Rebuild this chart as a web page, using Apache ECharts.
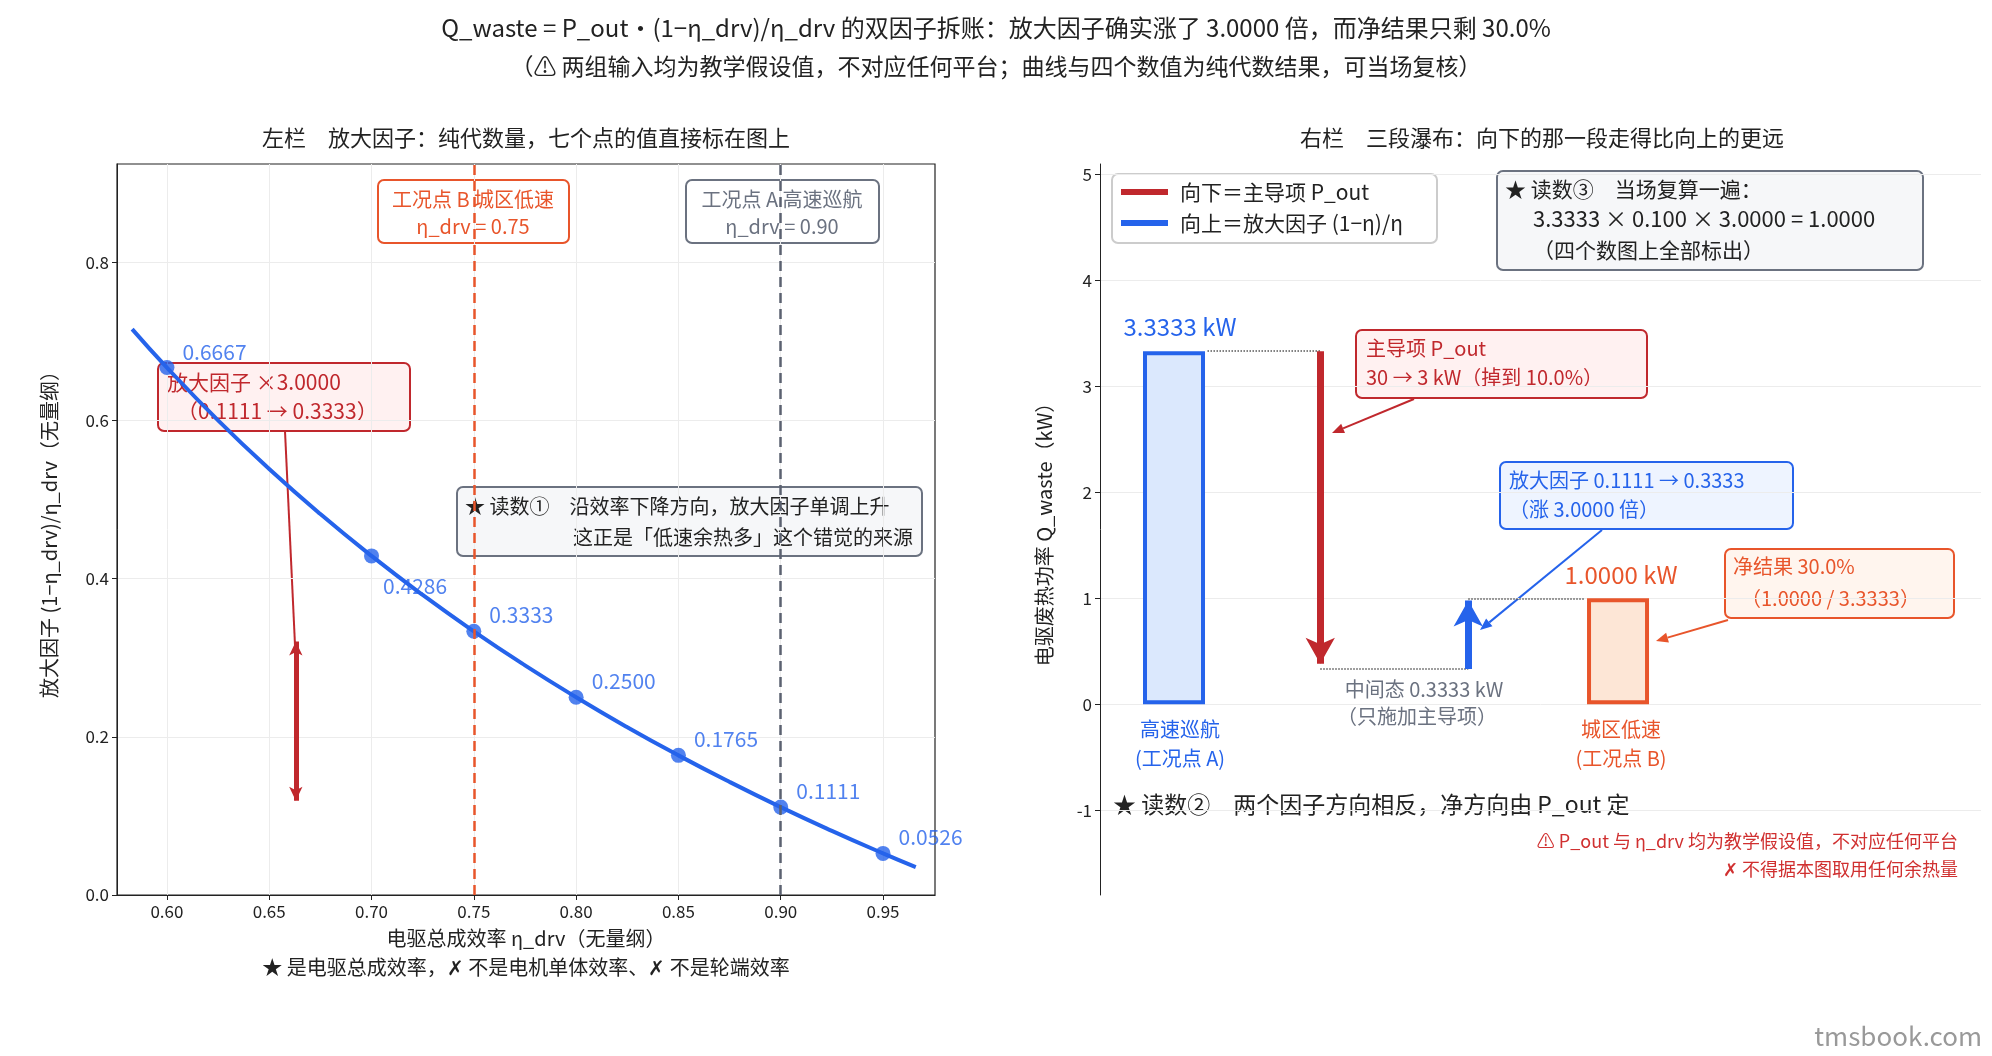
<!DOCTYPE html>
<html><head><meta charset="utf-8">
<script src="https://cdn.jsdelivr.net/npm/echarts@6/dist/echarts.min.js"></script>
<style>html,body{margin:0;padding:0;background:#fff}#c{width:1992px;height:1056px}</style>
</head><body><div id="c"></div>
<script>
// ---- data ----
const curveEta = [0.583,0.60,0.625,0.65,0.675,0.70,0.725,0.75,0.775,0.80,0.825,0.85,0.875,0.90,0.925,0.95,0.966];
const curveVal = [0.7153,0.6667,0.6000,0.5385,0.4815,0.4286,0.3793,0.3333,0.2903,0.2500,0.2121,0.1765,0.1429,0.1111,0.0811,0.0526,0.0352];
const pointEta = [0.60,0.70,0.75,0.80,0.85,0.90,0.95];
const pointVal = [0.6667,0.4286,0.3333,0.2500,0.1765,0.1111,0.0526];
const etaTicks = [0.60,0.65,0.70,0.75,0.80,0.85,0.90,0.95];
const factorTicks = [0.0,0.2,0.4,0.6,0.8];
const wasteTicks = [-1,0,1,2,3,4,5];
const qA = 3.3333, qMid = 0.3333, qB = 1.0000;
const ampArrow = [0.1111, 0.3333];
const pos = {A:0.84, down:2.50, up:4.18, B:5.88};

const FONT = '"Noto Sans CJK SC","Noto Sans",sans-serif';
const BLUE='#2563eb', RED='#c0282d', ORANGE='#e8552b', GRAY='#6b7280';
const chart = echarts.init(document.getElementById('c'));

function txt(x,y,text,o){return Object.assign({type:'text',x,y,style:Object.assign({text,font:'20px '+FONT,fill:'#222',textAlign:'center',textVerticalAlign:'middle'},o||{})});}
function box(x,y,w,h,stroke,fill){return {type:'rect',shape:{x,y,width:w,height:h,r:6},style:{fill,stroke,lineWidth:2}};}
function arrow(x1,y1,x2,y2,color,w){
  const a=Math.atan2(y2-y1,x2-x1),L=12,W=5;
  const bx=x2-L*Math.cos(a),by=y2-L*Math.sin(a);
  return [{type:'line',shape:{x1,y1,x2:bx,y2:by},style:{stroke:color,lineWidth:w}},
    {type:'polygon',shape:{points:[[x2,y2],[bx+W*Math.sin(a),by-W*Math.cos(a)],[bx-W*Math.sin(a),by+W*Math.cos(a)]]},style:{fill:color}}];
}
const dotted = {type:'dotted',color:'#555',width:1.5};

const graphics = [
  txt(996,28,'Q_waste = P_out・(1−η_drv)/η_drv 的双因子拆账：放大因子确实涨了 3.0000 倍，而净结果只剩 30.0%',{font:'24px '+FONT}),
  txt(996,66,'（⚠ 两组输入均为教学假设值，不对应任何平台；曲线与四个数值为纯代数结果，可当场复核）',{font:'23px '+FONT}),
  txt(526,138,'左栏　放大因子：纯代数量，七个点的值直接标在图上',{font:'22px '+FONT}),
  txt(1542,138,'右栏　三段瀑布：向下的那一段走得比向上的更远',{font:'22px '+FONT}),
  // left boxes
  box(378,180,191,63,ORANGE,'#fff'),
  txt(473,199,'工况点 B 城区低速',{fill:ORANGE}), txt(473,226,'η_drv = 0.75',{fill:ORANGE}),
  box(686,180,193,63,GRAY,'#fff'),
  txt(782,199,'工况点 A 高速巡航',{fill:GRAY}), txt(782,226,'η_drv = 0.90',{fill:GRAY}),
  box(158,363,252,68,RED,'#fff1f1'),
  txt(167,382,'放大因子 ×3.0000',{fill:RED,textAlign:'left',font:'21px '+FONT}),
  txt(177,411,'（0.1111 → 0.3333）',{fill:RED,textAlign:'left',font:'21px '+FONT}),
  {type:'line',shape:{x1:285,y1:431,x2:295,y2:645},style:{stroke:RED,lineWidth:2}},
  box(457,487,465,69,GRAY,'#f6f7f9'),
  txt(465,506,'★ 读数①　沿效率下降方向，放大因子单调上升',{textAlign:'left'}),
  txt(913,537,'这正是「低速余热多」这个错觉的来源',{textAlign:'right'}),
  txt(526,938,'电驱总成效率 η_drv（无量纲）',{font:'20px '+FONT}),
  txt(526,967,'★ 是电驱总成效率，✗ 不是电机单体效率、✗ 不是轮端效率',{font:'20px '+FONT}),
  // right legend
  box(1112,174,325,69,'#ccc','#fff'),
  {type:'line',shape:{x1:1121,y1:192,x2:1168,y2:192},style:{stroke:RED,lineWidth:6}},
  {type:'line',shape:{x1:1121,y1:223,x2:1168,y2:223},style:{stroke:BLUE,lineWidth:6}},
  txt(1180,192,'向下＝主导项 P_out',{textAlign:'left',font:'21px '+FONT}),
  txt(1180,223,'向上＝放大因子 (1−η)/η',{textAlign:'left',font:'21px '+FONT}),
  box(1497,171,426,99,GRAY,'#f6f7f9'),
  txt(1505,189,'★ 读数③　当场复算一遍：',{textAlign:'left',font:'21px '+FONT}),
  txt(1533,219,'3.3333 × 0.100 × 3.0000 = 1.0000',{textAlign:'left',font:'22px '+FONT}),
  txt(1533,250,'（四个数图上全部标出）',{textAlign:'left',font:'21px '+FONT}),
  txt(1180,327,'3.3333 kW',{fill:BLUE,font:'24px '+FONT}),
  txt(1621,575,'1.0000 kW',{fill:ORANGE,font:'24px '+FONT}),
  txt(1424,689,'中间态 0.3333 kW',{fill:GRAY}),
  txt(1417,716,'（只施加主导项）',{fill:GRAY}),
  txt(1180,729,'高速巡航',{fill:BLUE}), txt(1180,758,'(工况点 A)',{fill:BLUE}),
  txt(1621,729,'城区低速',{fill:ORANGE}), txt(1621,758,'(工况点 B)',{fill:ORANGE}),
  box(1356,330,291,68,RED,'#fff1f1'),
  txt(1366,348,'主导项 P_out',{fill:RED,textAlign:'left'}),
  txt(1366,377,'30 → 3 kW（掉到 10.0%）',{fill:RED,textAlign:'left'}),
  ...arrow(1414,399,1332,433,RED,2),
  box(1500,462,293,67,BLUE,'#eef4ff'),
  txt(1509,480,'放大因子 0.1111 → 0.3333',{fill:BLUE,textAlign:'left'}),
  txt(1509,509,'（涨 3.0000 倍）',{fill:BLUE,textAlign:'left'}),
  ...arrow(1602,530,1480,630,BLUE,2),
  box(1725,549,229,69,ORANGE,'#fff5ee'),
  txt(1733,566,'净结果 30.0%',{fill:ORANGE,textAlign:'left'}),
  txt(1741,598,'（1.0000 / 3.3333）',{fill:ORANGE,textAlign:'left'}),
  ...arrow(1728,620,1656,641,ORANGE,2),
  txt(1113,804,'★ 读数②　两个因子方向相反，净方向由 P_out 定',{textAlign:'left',font:'23px '+FONT}),
  txt(1958,841,'⚠ P_out 与 η_drv 均为教学假设值，不对应任何平台',{textAlign:'right',fill:'#d03030',font:'18px '+FONT}),
  txt(1958,869,'✗ 不得据本图取用任何余热量',{textAlign:'right',fill:'#d03030',font:'18px '+FONT}),
  txt(1982,1036,'tmsbook.com',{textAlign:'right',fill:'#999',font:'26px '+FONT})
];

const axLabel = {color:'#222',fontSize:17,fontFamily:FONT};
chart.setOption({
  animation:false,
  textStyle:{fontFamily:FONT},
  grid:[
    {left:117,width:818,top:164,height:731,show:true,borderColor:'#222',borderWidth:1.2,backgroundColor:'transparent'},
    {left:1100,width:881,top:164,height:731}
  ],
  xAxis:[
    {gridIndex:0,type:'value',min:0.5756,max:0.9754,
     axisLine:{lineStyle:{color:'#222'}},axisTick:{customValues:etaTicks,lineStyle:{color:'#222'}},
     axisLabel:Object.assign({customValues:etaTicks,formatter:v=>v.toFixed(2)},axLabel),
     splitLine:{show:true,lineStyle:{color:'#ececec'}}},
    {gridIndex:1,type:'value',min:0,max:10,show:false}
  ],
  yAxis:[
    {gridIndex:0,type:'value',min:0,max:0.924,interval:0.2,
     name:'放大因子 (1−η_drv)/η_drv（无量纲）',nameLocation:'middle',nameGap:58,
     nameTextStyle:{fontSize:20,color:'#222',fontFamily:FONT},
     axisLine:{show:true,lineStyle:{color:'#222'}},axisTick:{show:true,customValues:factorTicks,lineStyle:{color:'#222'}},
     axisLabel:Object.assign({customValues:factorTicks,formatter:v=>v.toFixed(1)},axLabel),
     splitLine:{lineStyle:{color:'#ececec'}}},
    {gridIndex:1,type:'value',min:-1.8,max:5.1,
     name:'电驱废热功率 Q_waste（kW）',nameLocation:'middle',nameGap:46,
     nameTextStyle:{fontSize:20,color:'#222',fontFamily:FONT},
     axisLine:{show:true,lineStyle:{color:'#222'}},
     axisTick:{show:true,customValues:wasteTicks,lineStyle:{color:'#222'}},
     axisLabel:Object.assign({customValues:wasteTicks},axLabel),
     splitLine:{show:true,lineStyle:{color:'#ececec'}}}
  ],
  series:[
    {type:'line',xAxisIndex:0,yAxisIndex:0,smooth:true,symbol:'none',
     data:curveEta.map((e,i)=>[e,curveVal[i]]),lineStyle:{color:BLUE,width:4},z:3,
     markLine:{silent:true,symbol:'none',label:{show:false},data:[
       {xAxis:0.75,lineStyle:{color:ORANGE,type:[10,6],width:2.5}},
       {xAxis:0.90,lineStyle:{color:'#5b6170',type:[10,6],width:2.5}},
       [{coord:[0.663,ampArrow[0]+0.008],symbol:'arrow',symbolSize:[10,14],lineStyle:{color:RED,width:5,type:'solid'}},
        {coord:[0.663,ampArrow[1]-0.013],symbol:'arrow',symbolSize:[10,14]}]
     ]}},
    {type:'scatter',xAxisIndex:0,yAxisIndex:0,symbolSize:15,itemStyle:{color:BLUE},z:4,
     data:pointEta.map((e,i)=>({value:[e,pointVal[i]],label:{offset:i==1?[-4,30]:[0,-16]}})),
     label:{show:true,position:'right',distance:8,color:BLUE,fontSize:21,fontFamily:FONT,formatter:p=>pointVal[p.dataIndex].toFixed(4)}},
    {type:'bar',xAxisIndex:1,yAxisIndex:1,barWidth:62,
     data:[{value:[pos.A,qA],itemStyle:{color:'#dbe8fd',borderColor:BLUE,borderWidth:4}},
           {value:[pos.B,qB],itemStyle:{color:'#fde6d6',borderColor:ORANGE,borderWidth:4}}],
     markLine:{silent:true,label:{show:false},data:[
       [{coord:[pos.A+0.38,qA],symbol:'none',lineStyle:dotted},{coord:[pos.down,qA],symbol:'none'}],
       [{coord:[pos.down,qMid],symbol:'none',lineStyle:dotted},{coord:[pos.up,qMid],symbol:'none'}],
       [{coord:[pos.up,qB],symbol:'none',lineStyle:dotted},{coord:[pos.B-0.38,qB],symbol:'none'}],
       [{coord:[pos.down,qA],symbol:'none',lineStyle:{color:RED,width:7,type:'solid'}},{coord:[pos.down,qMid+0.05],symbol:'arrow',symbolSize:[22,26]}],
       [{coord:[pos.up,qMid],symbol:'none',lineStyle:{color:BLUE,width:7,type:'solid'}},{coord:[pos.up,qB-0.02],symbol:'arrow',symbolSize:[22,26]}]
     ]}}
  ],
  graphic:graphics
});
</script></body></html>
